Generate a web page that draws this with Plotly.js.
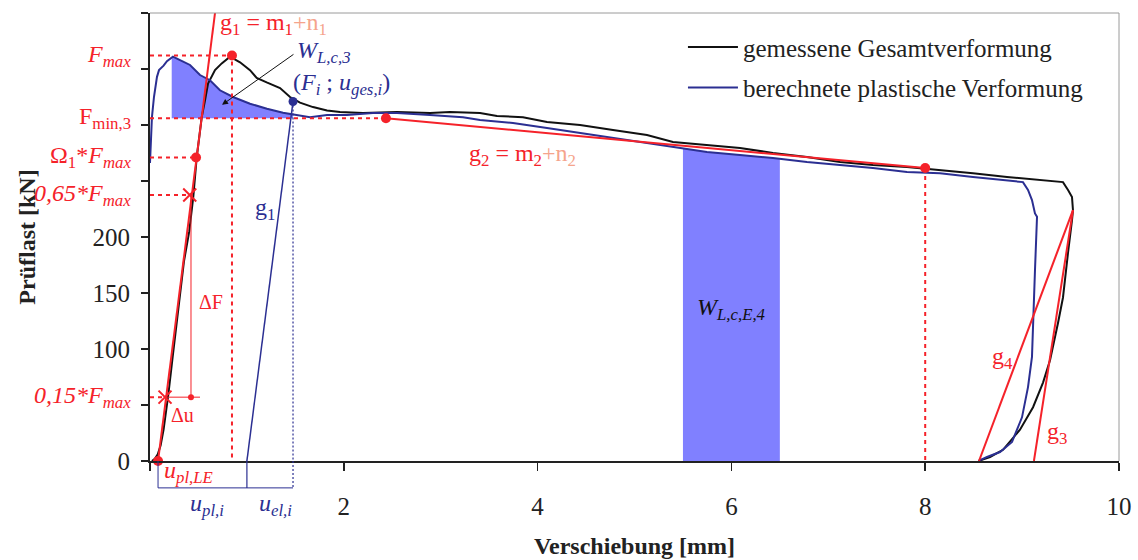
<!DOCTYPE html>
<html>
<head>
<meta charset="utf-8">
<script src="https://cdn.plot.ly/plotly-3.0.1.min.js"></script>
<style>html,body{margin:0;padding:0;background:#fff;}#chart{width:1138px;height:560px;}</style>
</head>
<body>
<div id="chart"></div>
<script>
// ---- data ----
const blackX = [0.02,0.05,0.08,0.11,0.14,0.17,0.19,0.23,0.27,0.31,0.35,0.405,0.447,0.482,0.534,0.568,0.599,0.671,0.74,0.826,0.929,1.032,1.101,1.204,1.342,1.445,1.548,1.682,1.827,1.961,2.198,2.549,2.890,3.096,3.406,3.581,3.849,4.097,4.438,4.778,5.129,5.397,5.748,6.089,6.429,6.780,7.121,7.461,7.812,8.153,8.493,8.844,9.185,9.422,9.474,9.515,9.525,9.515,9.474,9.422,9.370,9.288,9.216,9.113,8.978,8.803,8.669,8.566,8.55];
const blackY = [0,2,6,14,28,45,60,90,120,150,178,205,236,271,307,322,337,349,355,361,356,349,342,338,333,325,320,316,313,311.6,310.7,311.6,310.7,311.6,310.7,308,307,302.7,300,295.5,291,284.8,282,279.5,275,271.4,267,264.3,262.5,259.8,257,253.6,250.9,249,242,235.7,224,215,186,146,123,90,70,48,28,10,3.6,0.9,0];
const blueX = [0,0.005,0.02,0.041,0.072,0.093,0.14,0.175,0.237,0.310,0.413,0.516,0.619,0.722,0.857,1.032,1.207,1.373,1.517,1.651,1.827,2.033,2.301,2.549,2.890,3.230,3.406,3.746,4.097,4.438,4.778,5.129,5.397,5.748,6.089,6.429,6.780,7.121,7.461,7.812,8.153,8.493,8.844,9.009,9.061,9.102,9.133,9.154,9.133,9.112,9.102,9.061,8.999,8.896,8.772,8.638,8.566,8.55];
const blueY = [266,280,307,325,343,349,353,357,361,358,353.6,344.6,340,331,325,319,314.5,311,309,307,309,309,310.7,310.7,309,307,304.5,301.8,297.3,292.9,288.4,283.9,280.4,275.9,273.2,270.5,267,264.3,261.6,258,257,253.6,250.9,249,242,233,221,218,170.5,126,93,66,39,17,8,3.6,1,0];

// characteristic values
const Fmax = 362, uFmax = 0.846;
const Fmin3 = 306, uFmin3 = 2.435;
const OmegaF = 271, uOmega = 0.475;
const F65 = 237.5, u65 = 0.41;
const F15 = 57, u15 = 0.155, uDeltaEnd = 0.516, uDeltaF = 0.423;
const uplLE = 0.083;
const g1X = [0.083, 0.69], g1Y = [0, 413];
const g2X = [2.435, 8.0], g2Y = [306, 261.6];
const g3X = [9.122, 9.525], g3Y = [0, 224];
const g4X = [8.555, 9.525], g4Y = [0, 224];
const unloadX = [1.0, 1.476], unloadY = [0, 321];
const Fi = 321, uGes = 1.476, uPl = 1.0;
const wc3Range = [0.224, 1.476];
const wE4Range = [5.5, 6.5];
const dimY = -24;
const xRange = [0, 10], yRange = [0, 400];
const xTicks = [0,2,4,6,8,10], xTickText = ['','2','4','6','8','10'];
const yTicks = [0,50,100,150,200,250,300,350,400], yTickText = ['0','','100','150','200','','','','400'];

// ---- helpers ----
function interp(xs, ys, x, upto) {
  const n = upto || xs.length;
  for (let i = 0; i < n - 1; i++) {
    if ((xs[i] <= x && x <= xs[i+1])) {
      const t = (x - xs[i]) / (xs[i+1] - xs[i]);
      return ys[i] + t * (ys[i+1] - ys[i]);
    }
  }
  return ys[n-1];
}
const nRise = 47; // monotonic part of blue (before the unloading return)
function areaUnder(x0, x1, base) {
  const px = [x0], py = [interp(blueX, blueY, x0, nRise)];
  for (let i = 0; i < nRise; i++) if (blueX[i] > x0 && blueX[i] < x1) { px.push(blueX[i]); py.push(blueY[i]); }
  px.push(x1); py.push(interp(blueX, blueY, x1, nRise));
  px.push(x1, x0, x0); py.push(base, base, py[0]);
  return {x: px, y: py};
}
// data value -> paper fraction (for labels outside the axis ranges)
const xp = v => (v - xRange[0]) / (xRange[1] - xRange[0]);
const yp = v => (v - yRange[0]) / (yRange[1] - yRange[0]);

const RED = '#f5222a', PALE = '#f5a48c', BLUE = '#2b2f92', FILL = '#8080ff';
const FONT = 'Liberation Serif';

const a1 = areaUnder(wc3Range[0], wc3Range[1], Fmin3);
const a2 = areaUnder(wE4Range[0], wE4Range[1], 0);

const traces = [
  {x: a1.x, y: a1.y, type: 'scatter', mode: 'lines', fill: 'toself', fillcolor: FILL, line: {width: 0, color: FILL}, showlegend: false, hoverinfo: 'skip'},
  {x: a2.x, y: a2.y, type: 'scatter', mode: 'lines', fill: 'toself', fillcolor: FILL, line: {width: 0, color: FILL}, showlegend: false, hoverinfo: 'skip'},
  {x: blackX, y: blackY, type: 'scatter', mode: 'lines', name: 'gemessene Gesamtverformung', line: {color: '#111111', width: 2}, legendgroup: 'a'},
  {x: blueX, y: blueY, type: 'scatter', mode: 'lines', name: 'berechnete plastische Verformung', line: {color: BLUE, width: 2}, legendgroup: 'b'},
  {x: g1X, y: g1Y, type: 'scatter', mode: 'lines', line: {color: RED, width: 2}, showlegend: false},
  {x: g2X, y: g2Y, type: 'scatter', mode: 'lines', line: {color: RED, width: 2}, showlegend: false},
  {x: g3X, y: g3Y, type: 'scatter', mode: 'lines', line: {color: RED, width: 2}, showlegend: false},
  {x: g4X, y: g4Y, type: 'scatter', mode: 'lines', line: {color: RED, width: 2}, showlegend: false},
  {x: unloadX, y: unloadY, type: 'scatter', mode: 'lines', line: {color: BLUE, width: 1.5}, showlegend: false},
  // dashed guide lines
  {x: [0, uFmax, uFmax], y: [Fmax, Fmax, 0], type: 'scatter', mode: 'lines', line: {color: RED, width: 2, dash: '4px,4px'}, showlegend: false},
  {x: [0, uFmin3], y: [Fmin3, Fmin3], type: 'scatter', mode: 'lines', line: {color: RED, width: 2, dash: '4px,4px'}, showlegend: false},
  {x: [0, uOmega], y: [OmegaF, OmegaF], type: 'scatter', mode: 'lines', line: {color: RED, width: 2, dash: '4px,4px'}, showlegend: false},
  {x: [0, u65], y: [F65, F65], type: 'scatter', mode: 'lines', line: {color: RED, width: 2, dash: '4px,4px'}, showlegend: false},
  {x: [0, u15], y: [F15, F15], type: 'scatter', mode: 'lines', line: {color: RED, width: 2, dash: '4px,4px'}, showlegend: false},
  {x: [g2X[1], g2X[1]], y: [g2Y[1], 0], type: 'scatter', mode: 'lines', line: {color: RED, width: 2, dash: '4px,4px'}, showlegend: false},
  {x: [uGes, uGes], y: [Fi, 0], type: 'scatter', mode: 'lines', line: {color: BLUE, width: 1.2, dash: '2px,2px'}, showlegend: false},
  // delta u / delta F
  {x: [u15, uDeltaEnd], y: [F15, F15], type: 'scatter', mode: 'lines', line: {color: RED, width: 1}, showlegend: false},
  {x: [uDeltaF, uDeltaF], y: [F15, F65], type: 'scatter', mode: 'lines', line: {color: RED, width: 1}, showlegend: false},
  // markers
  {x: [uFmax, uOmega, uplLE, uFmin3, g2X[1]], y: [Fmax, OmegaF, 0, Fmin3, g2Y[1]], type: 'scatter', mode: 'markers', marker: {color: RED, size: 10}, cliponaxis: false, showlegend: false},
  {x: [uDeltaF], y: [F15], type: 'scatter', mode: 'markers', marker: {color: RED, size: 6}, showlegend: false},
  {x: [u65, u15], y: [F65, F15], type: 'scatter', mode: 'markers', marker: {symbol: 'x-thin', color: RED, size: 13, line: {color: RED, width: 2}}, showlegend: false},
  {x: [uGes], y: [Fi], type: 'scatter', mode: 'markers', marker: {color: BLUE, size: 9}, showlegend: false},
  {x: [uplLE, uPl, uGes], y: [dimY, dimY, dimY], type: 'scatter', mode: 'markers', marker: {color: BLUE, size: 5}, cliponaxis: false, showlegend: false}
];

const dimP = yp(dimY);
const shapes = [
  {type: 'line', xref: 'paper', yref: 'paper', x0: 0, x1: 1, y0: 1, y1: 1, line: {color: '#9a9a9a', width: 1}},
  {type: 'line', xref: 'paper', yref: 'paper', x0: 1, x1: 1, y0: 0, y1: 1, line: {color: '#9a9a9a', width: 1}},
  {type: 'line', xref: 'x', yref: 'paper', x0: uplLE, x1: uGes, y0: dimP, y1: dimP, line: {color: BLUE, width: 1}},
  {type: 'line', xref: 'x', yref: 'paper', x0: uplLE, x1: uplLE, y0: 0, y1: dimP, line: {color: BLUE, width: 1}},
  {type: 'line', xref: 'x', yref: 'paper', x0: uPl, x1: uPl, y0: 0, y1: dimP, line: {color: BLUE, width: 1.2}},
  {type: 'line', xref: 'x', yref: 'paper', x0: uGes, x1: uGes, y0: 0, y1: dimP, line: {color: BLUE, width: 1.2, dash: '2px,2px'}}
];

const f = (c, s) => ({family: FONT, size: s || 24, color: c});
const labX = xp(-0.18);
const ann = [
  {xref: 'paper', yref: 'y', x: labX, y: Fmax, xanchor: 'right', yanchor: 'middle', text: '<i>F<sub>max</sub></i>', showarrow: false, font: f(RED)},
  {xref: 'paper', yref: 'y', x: labX, y: Fmin3, xanchor: 'right', yanchor: 'middle', text: 'F<sub>min,3</sub>', showarrow: false, font: f(RED)},
  {xref: 'paper', yref: 'y', x: labX, y: OmegaF, xanchor: 'right', yanchor: 'middle', text: 'Ω<sub>1</sub>*<i>F<sub>max</sub></i>', showarrow: false, font: f(RED)},
  {xref: 'paper', yref: 'y', x: labX, y: F65, xanchor: 'right', yanchor: 'middle', text: '<i>0,65*F<sub>max</sub></i>', showarrow: false, font: f(RED)},
  {xref: 'paper', yref: 'y', x: labX, y: F15, xanchor: 'right', yanchor: 'middle', text: '<i>0,15*F<sub>max</sub></i>', showarrow: false, font: f(RED)},
  {xref: 'x', yref: 'y', x: 0.70, y: 390, xanchor: 'left', yanchor: 'middle', text: 'g<sub>1</sub> = m<sub>1</sub><span style="color:' + PALE + '">+n<sub>1</sub></span>', showarrow: false, font: f(RED)},
  {xref: 'x', yref: 'y', x: 3.27, y: 273, xanchor: 'left', yanchor: 'middle', text: 'g<sub>2</sub> = m<sub>2</sub><span style="color:' + PALE + '">+n<sub>2</sub></span>', showarrow: false, font: f(RED)},
  {xref: 'x', yref: 'y', x: 1.50, y: 365, xanchor: 'left', yanchor: 'middle', text: '<i>W<sub>L,c,3</sub></i>', showarrow: false, font: f(BLUE)},
  {xref: 'x', yref: 'y', x: 1.45, y: 337, xanchor: 'left', yanchor: 'middle', text: '(<i>F<sub>i</sub></i> ; <i>u<sub>ges,i</sub></i>)', showarrow: false, font: f(BLUE)},
  {xref: 'x', yref: 'y', x: 0.743, y: 318, ax: 1.496, ay: 364, axref: 'x', ayref: 'y', text: '', showarrow: true, arrowhead: 2, arrowsize: 1.2, arrowwidth: 1, arrowcolor: '#111'},
  {xref: 'x', yref: 'y', x: 1.19, y: 225, xanchor: 'center', yanchor: 'middle', text: 'g<sub>1</sub>', showarrow: false, font: f(BLUE)},
  {xref: 'x', yref: 'y', x: 0.485, y: 142, xanchor: 'left', yanchor: 'middle', text: 'ΔF', showarrow: false, font: f(RED, 20)},
  {xref: 'x', yref: 'y', x: 0.2, y: 41, xanchor: 'left', yanchor: 'middle', text: 'Δu', showarrow: false, font: f(RED, 20)},
  {xref: 'x', yref: 'y', x: 6.0, y: 136, xanchor: 'center', yanchor: 'middle', text: '<i>W<sub>L,c,E,4</sub></i>', showarrow: false, font: f('#111')},
  {xref: 'x', yref: 'paper', x: 0.12, y: yp(-10), xanchor: 'left', yanchor: 'middle', text: '<i>u<sub>pl,LE</sub></i>', showarrow: false, font: f(RED)},
  {xref: 'x', yref: 'paper', x: 0.39, y: yp(-39), xanchor: 'left', yanchor: 'middle', text: '<i>u<sub>pl,i</sub></i>', showarrow: false, font: f(BLUE)},
  {xref: 'x', yref: 'paper', x: 1.10, y: yp(-39), xanchor: 'left', yanchor: 'middle', text: '<i>u<sub>el,i</sub></i>', showarrow: false, font: f(BLUE)},
  {xref: 'x', yref: 'y', x: 8.80, y: 92, xanchor: 'center', yanchor: 'middle', text: 'g<sub>4</sub>', showarrow: false, font: f(RED)},
  {xref: 'x', yref: 'y', x: 9.36, y: 25, xanchor: 'center', yanchor: 'middle', text: 'g<sub>3</sub>', showarrow: false, font: f(RED)}
];

const layout = {
  width: 1138, height: 560,
  margin: {l: 150, r: 19, t: 13, b: 99},
  paper_bgcolor: '#fff', plot_bgcolor: '#fff',
  font: {family: FONT, size: 24, color: '#222'},
  showlegend: true,
  legend: {x: 0.55, y: 0.975, xanchor: 'left', yanchor: 'top', bgcolor: 'rgba(0,0,0,0)', font: {family: FONT, size: 25, color: '#222'}, itemwidth: 50, tracegroupgap: 5, traceorder: 'grouped'},
  xaxis: {range: xRange, tickvals: xTicks, ticktext: xTickText, ticks: 'outside', ticklen: 8, tickwidth: 1.5, tickcolor: '#222',
    showline: true, linecolor: '#222', linewidth: 2, showgrid: false, zeroline: false, ticklabelstandoff: 14,
    tickfont: {family: FONT, size: 25, color: '#222'},
    title: {text: '<b>Verschiebung [mm]</b>', font: {family: FONT, size: 24, color: '#222'}, standoff: 18}},
  yaxis: {range: yRange, tickvals: yTicks, ticktext: yTickText, ticks: 'outside', ticklen: 7, tickwidth: 1.5, tickcolor: '#222',
    showline: true, linecolor: '#222', linewidth: 2, showgrid: false, zeroline: false, ticklabelstandoff: 6,
    tickfont: {family: FONT, size: 25, color: '#222'},
    title: {text: '<b>Prüflast [kN]</b>', font: {family: FONT, size: 24, color: '#222'}, standoff: 50}},
  shapes: shapes,
  annotations: ann
};

Plotly.newPlot('chart', traces, layout, {staticPlot: true, displayModeBar: false});
</script>
</body>
</html>
